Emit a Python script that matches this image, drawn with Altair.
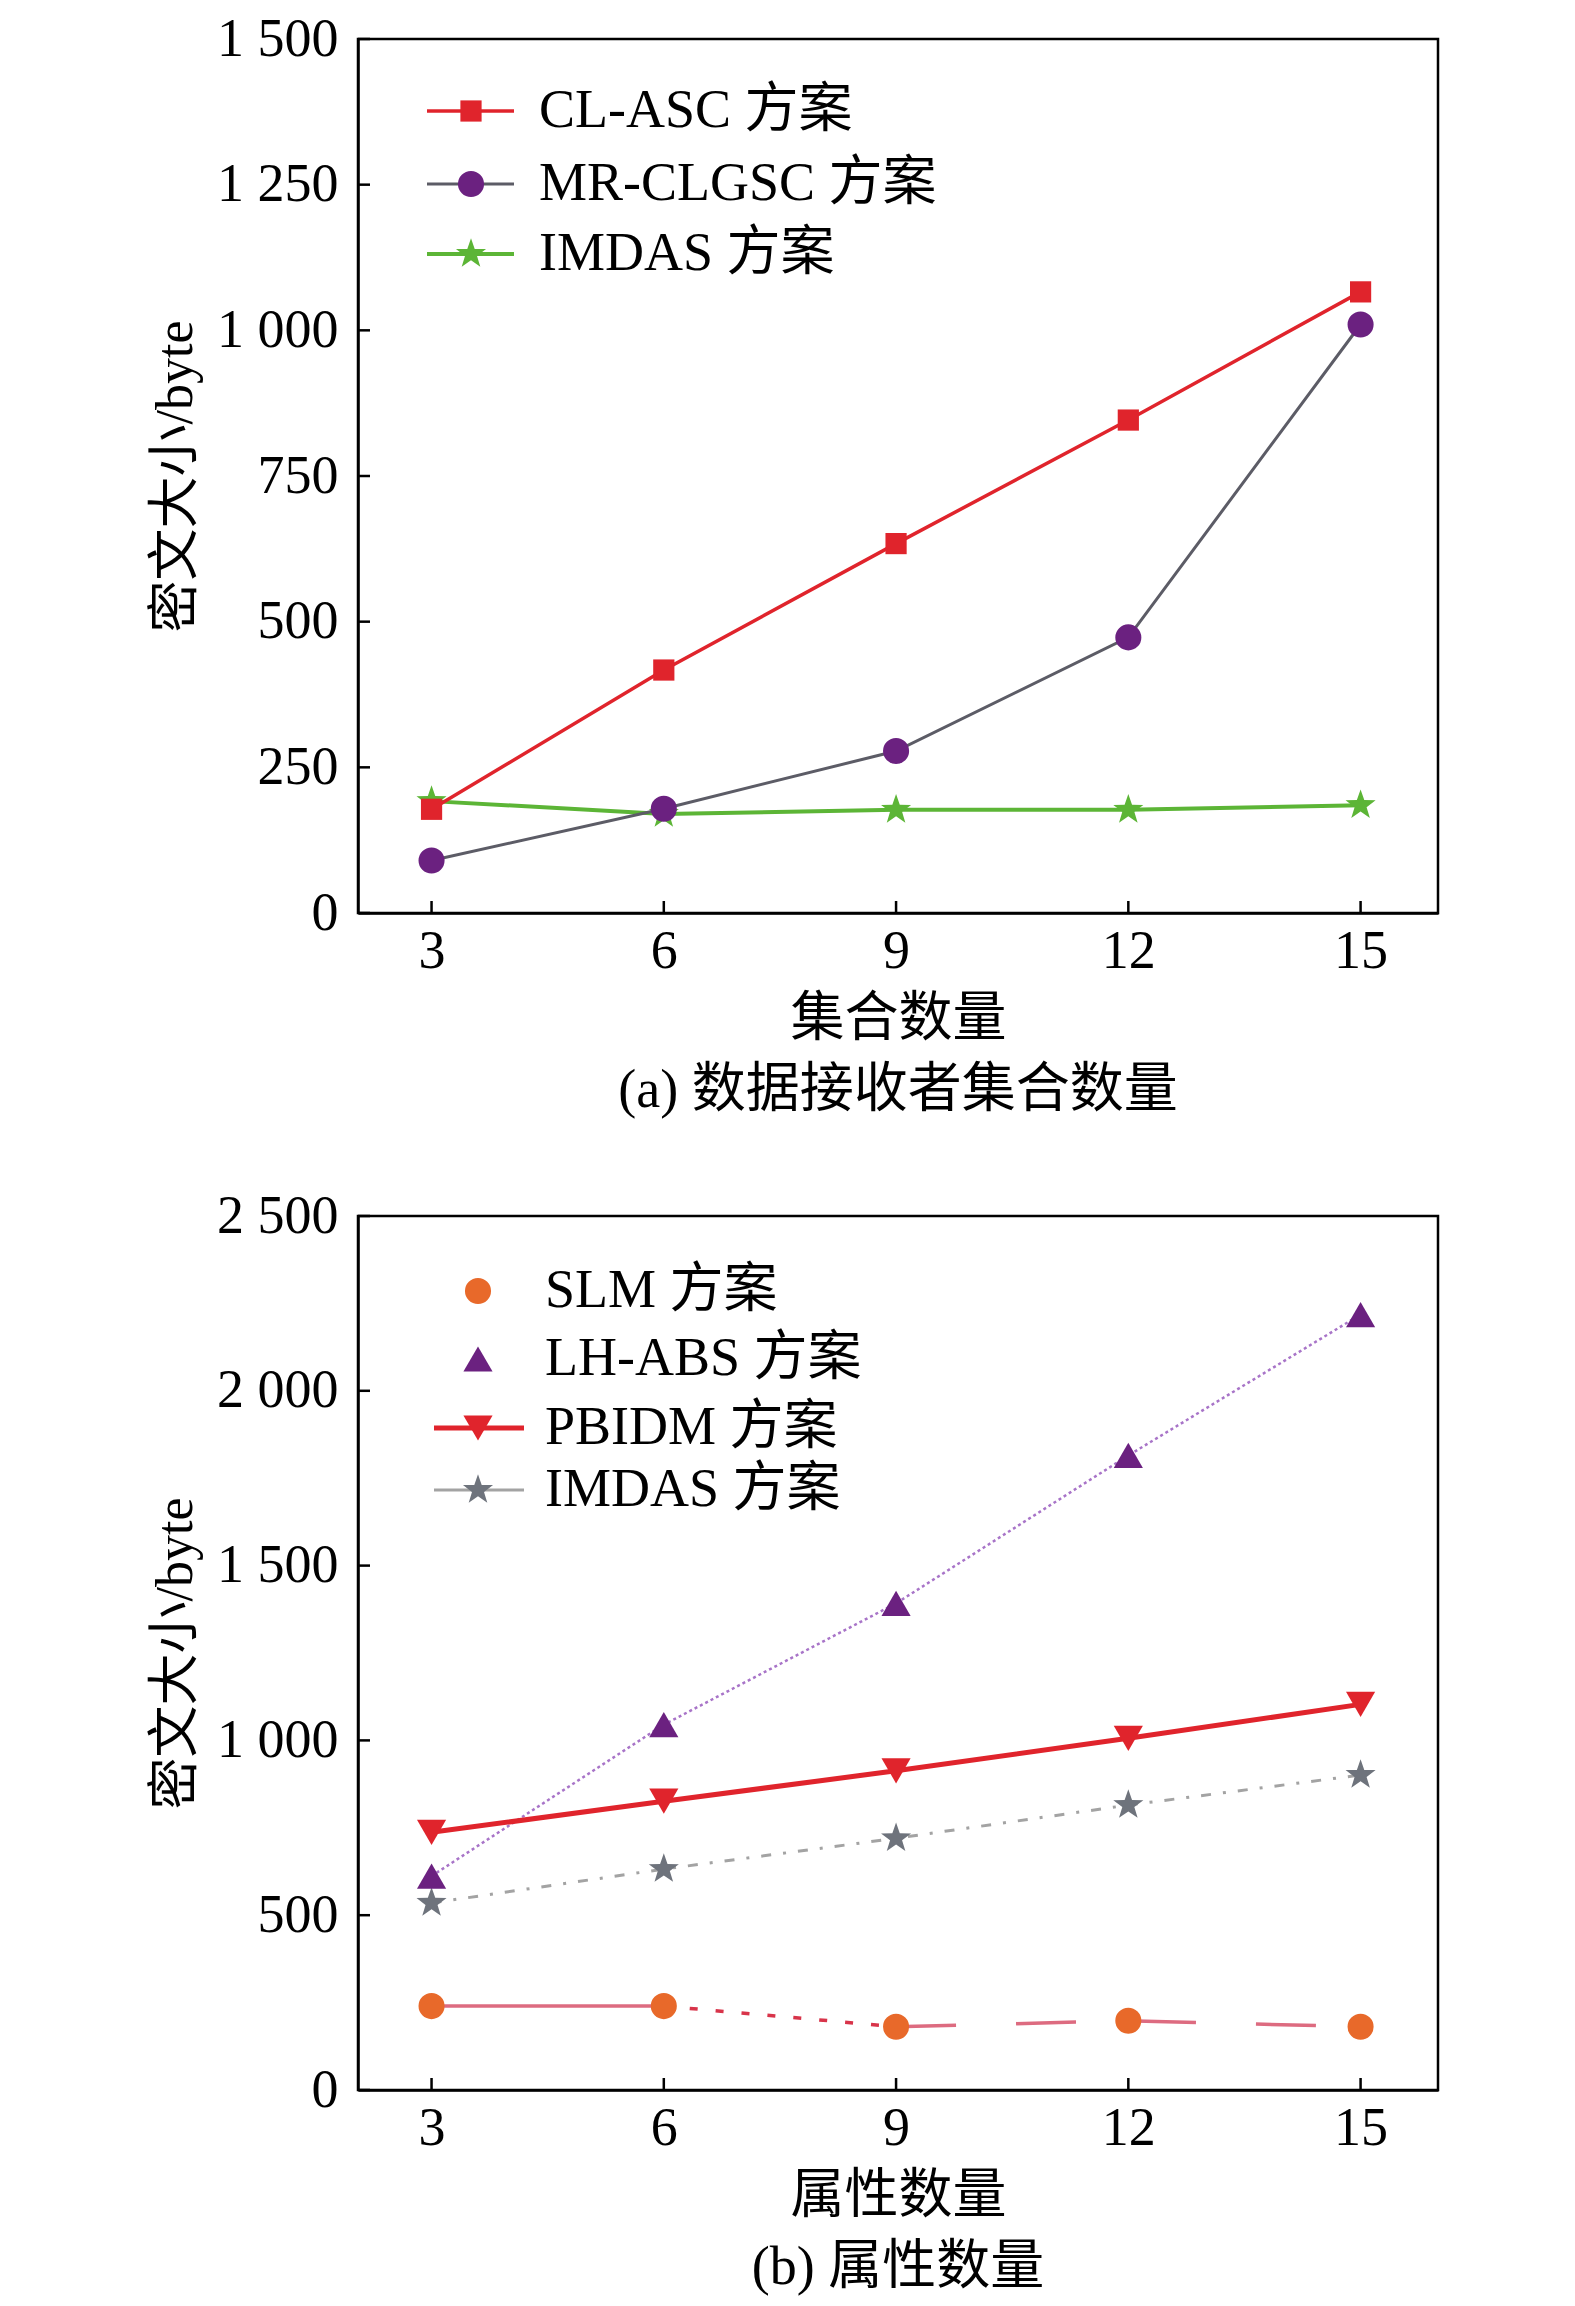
import altair as alt
import pandas as pd

# ---------------- data ----------------
x_vals = [3, 6, 9, 12, 15]

# panel (a): ciphertext size vs. number of receiver sets
cl_asc = [178, 417, 634, 846, 1066]
mr_clgsc = [90, 179, 278, 473, 1010]
imdas_a = [192, 170, 177, 177, 185]

# panel (b): ciphertext size vs. number of attributes
slm = [240, 240, 181, 198, 181]
lh_abs = [612, 1045, 1392, 1815, 2218]
pbidm = [737, 826, 913, 1006, 1103]
imdas_b = [535, 632, 720, 815, 901]

names_a = ["CL-ASC 方案", "MR-CLGSC 方案", "IMDAS 方案"]
names_b = ["SLM 方案", "LH-ABS 方案", "PBIDM 方案", "IMDAS 方案"]

yticks_a = [0, 250, 500, 750, 1000, 1250, 1500]
yticks_b = [0, 500, 1000, 1500, 2000, 2500]

xtitle_a = "集合数量"
xtitle_b = "属性数量"
ytitle = "密文大小/byte"
caption_a = "(a) 数据接收者集合数量"
caption_b = "(b) 属性数量"

# ---------------- style ----------------
FONT = "Liberation Serif, Times New Roman, Noto Sans CJK SC"
W, H = 1080, 874
STAR = ("M0,-1L0.235,-0.324L0.951,-0.309L0.380,0.124L0.588,0.809L0,0.4"
        "L-0.588,0.809L-0.380,0.124L-0.951,-0.309L-0.235,-0.324Z")

RED = "#e0242c"
PURPLE = "#6b2180"
GREEN = "#5cb536"
GRAY_LINE = "#5c5c66"
ORANGE = "#e8692a"
PINK = "#dd6b80"
LILAC = "#a874c8"
GRAY2_LINE = "#a3a3a3"
GRAY2_MARK = "#6e737c"

SZ_SQ, SZ_CIR, SZ_TRI, SZ_STAR = 450, 680, 850, 1000


def axis_common():
    return dict(labelFont=FONT, titleFont=FONT, labelColor="black",
                titleColor="black", titleFontWeight="normal",
                domainColor="black", domainWidth=2.5, tickSize=0,
                ticks=False, grid=False, labelFontSize=54)


def x_enc(title):
    return alt.X("x:Q",
                 scale=alt.Scale(domain=[2.05, 16], nice=False, zero=False),
                 axis=alt.Axis(values=x_vals, title=title, labelPadding=11,
                               titlePadding=14, titleFontSize=54,
                               **axis_common()))


def y_enc(ticks):
    return alt.Y("y:Q",
                 scale=alt.Scale(domain=[ticks[0], ticks[-1]], nice=False),
                 axis=alt.Axis(values=ticks, title=ytitle, titleFontSize=52,
                               labelExpr="replace(format(datum.value, ','), ',', ' ')",
                               labelPadding=20, titlePadding=14,
                               **axis_common()))


def frame(vals):
    return pd.DataFrame({"x": x_vals, "y": vals})


def series(vals, X, Y, line_color, width, marker_color, shape, size,
           dash=None, line=True):
    df = frame(vals)
    layers = []
    if line:
        kw = dict(color=line_color, strokeWidth=width)
        if dash:
            kw["strokeDash"] = dash
        layers.append(alt.Chart(df).mark_line(**kw).encode(x=X, y=Y))
    layers.append(alt.Chart(df).mark_point(
        shape=shape, size=size, filled=True, color=marker_color, opacity=1
    ).encode(x=X, y=Y))
    return layers


def inward_ticks(X, Y, yticks):
    tx = alt.Chart(pd.DataFrame({"x": x_vals})).mark_rule(
        color="black", strokeWidth=2.5).encode(
        x=X, y=alt.value(H), y2=alt.value(H - 12))
    ty = alt.Chart(pd.DataFrame({"y": yticks})).mark_rule(
        color="black", strokeWidth=2.5).encode(
        y=Y, x=alt.value(0), x2=alt.value(12))
    return [tx, ty]


def legend_row(label, ypos, line_color=None, x1=69, x2=156, width=3,
               dash=None, marker_color=None, shape="circle", size=400,
               mx=113, tx=181):
    df = pd.DataFrame({"label": [label]})
    layers = []
    if line_color:
        kw = dict(color=line_color, strokeWidth=width)
        if dash:
            kw["strokeDash"] = dash
        layers.append(alt.Chart(df).mark_rule(**kw).encode(
            x=alt.value(x1), x2=alt.value(x2), y=alt.value(ypos)))
    layers.append(alt.Chart(df).mark_point(
        shape=shape, size=size, filled=True, color=marker_color, opacity=1
    ).encode(x=alt.value(mx), y=alt.value(ypos)))
    layers.append(alt.Chart(df).mark_text(
        align="left", baseline="middle", font=FONT, fontSize=54,
        color="black").encode(x=alt.value(tx), y=alt.value(ypos),
                              text="label:N"))
    return layers


# ---------------- panel (a) ----------------
Xa, Ya = x_enc(xtitle_a), y_enc(yticks_a)
layers_a = []
layers_a += series(imdas_a, Xa, Ya, GREEN, 4, GREEN, STAR, SZ_STAR)
layers_a += series(mr_clgsc, Xa, Ya, GRAY_LINE, 3, PURPLE, "circle", SZ_CIR)
layers_a += series(cl_asc, Xa, Ya, RED, 3.5, RED, "square", SZ_SQ)
layers_a += inward_ticks(Xa, Ya, yticks_a)
layers_a += legend_row(names_a[0], 72, RED, width=3.5, marker_color=RED,
                       shape="square", size=SZ_SQ)
layers_a += legend_row(names_a[1], 145, GRAY_LINE, width=3, marker_color=PURPLE,
                       shape="circle", size=SZ_CIR)
layers_a += legend_row(names_a[2], 215, GREEN, width=4, marker_color=GREEN,
                       shape=STAR, size=SZ_STAR)

chart_a = alt.layer(*layers_a).properties(
    width=W, height=H,
    title=alt.TitleParams(caption_a, orient="bottom", offset=18, fontSize=54,
                          font=FONT, fontWeight="normal", color="black"))

# ---------------- panel (b) ----------------
Xb, Yb = x_enc(xtitle_b), y_enc(yticks_b)
layers_b = []
# SLM line: solid, then short dashes, then long dashes
slm_df = frame(slm)
layers_b.append(alt.Chart(slm_df).transform_filter("datum.x <= 6").mark_line(
    color=PINK, strokeWidth=3.5).encode(x=Xb, y=Yb))
layers_b.append(alt.Chart(slm_df).transform_filter("datum.x >= 6 && datum.x <= 9").mark_line(
    color="#d8344a", strokeWidth=3.5, strokeDash=[8, 18]).encode(x=Xb, y=Yb))
layers_b.append(alt.Chart(slm_df).transform_filter("datum.x >= 9").mark_line(
    color=PINK, strokeWidth=3.5, strokeDash=[60, 60]).encode(x=Xb, y=Yb))
layers_b += series(slm, Xb, Yb, None, 0, ORANGE, "circle", SZ_CIR, line=False)
layers_b += series(imdas_b, Xb, Yb, GRAY2_LINE, 3, GRAY2_MARK, STAR, SZ_STAR,
                   dash=[10, 12, 3, 12])
layers_b += series(lh_abs, Xb, Yb, LILAC, 2.5, PURPLE, "triangle-up", SZ_TRI,
                   dash=[3, 3])
layers_b += series(pbidm, Xb, Yb, RED, 5, RED, "triangle-down", SZ_TRI)
layers_b += inward_ticks(Xb, Yb, yticks_b)
layers_b += legend_row(names_b[0], 75, marker_color=ORANGE, shape="circle",
                       size=SZ_CIR, mx=120, tx=187)
layers_b += legend_row(names_b[1], 143, marker_color=PURPLE, shape="triangle-up",
                       size=SZ_TRI, mx=120, tx=187)
layers_b += legend_row(names_b[2], 212, RED, x1=76, x2=166, width=5,
                       marker_color=RED, shape="triangle-down", size=SZ_TRI,
                       mx=120, tx=187)
layers_b += legend_row(names_b[3], 274, GRAY2_LINE, x1=76, x2=166, width=3,
                       marker_color=GRAY2_MARK, shape=STAR, size=SZ_STAR,
                       mx=120, tx=187)

chart_b = alt.layer(*layers_b).properties(
    width=W, height=H,
    title=alt.TitleParams(caption_b, orient="bottom", offset=18, fontSize=54,
                          font=FONT, fontWeight="normal", color="black"))

chart = alt.vconcat(chart_a, chart_b, spacing=67).properties(
    padding={"left": 140, "top": 2, "right": 10, "bottom": 5},
    background="white"
).configure_view(
    stroke="black", strokeWidth=2.5
).configure_axis(
    labelFont=FONT, titleFont=FONT, labelFontSize=54, titleFontSize=54,
    labelColor="black", titleColor="black", titleFontWeight="normal",
    domainColor="black", domainWidth=2.5
)

chart.save("out.html", embed_options={"renderer": "svg", "actions": False})
